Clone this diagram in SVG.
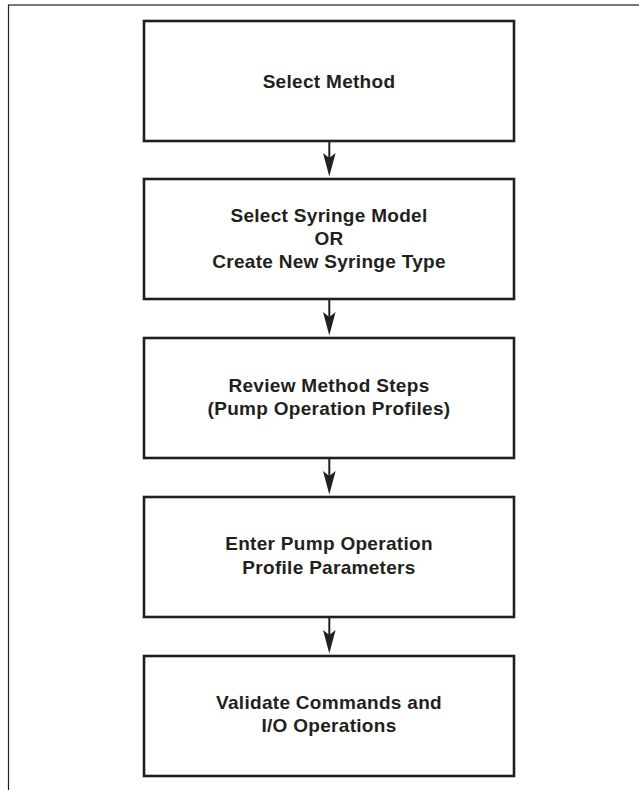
<svg xmlns="http://www.w3.org/2000/svg" width="639" height="790" viewBox="0 0 639 790">
<style>
.box{fill:#fff;stroke:#231f20;stroke-width:2.6}
.t{font-family:"Liberation Sans",Arial,sans-serif;font-weight:bold;font-size:19px;letter-spacing:0.3px;fill:#231f20;text-anchor:middle}
.c{stroke:#231f20;stroke-width:2;fill:none}
.h{fill:#231f20;stroke:none}
</style>
<rect x="0" y="0" width="639" height="790" fill="#fff"/>
<rect x="8.5" y="5" width="640" height="800" fill="none" stroke="#231f20" stroke-width="1.2"/>
<g id="n1"><rect class="box" x="144" y="21" width="370" height="120"/><text class="t" x="329" y="87.5">Select Method</text></g>
<g id="n2"><rect class="box" x="144" y="179" width="370" height="120"/><text class="t" x="329" y="222.3">Select Syringe Model</text><text class="t" x="329" y="245">OR</text><text class="t" x="329" y="267.7">Create New Syringe Type</text></g>
<g id="n3"><rect class="box" x="144" y="338" width="370" height="120"/><text class="t" x="329" y="391.5">Review Method Steps</text><text class="t" x="329" y="414.8">(Pump Operation Profiles)</text></g>
<g id="n4"><rect class="box" x="144" y="497" width="370" height="120"/><text class="t" x="329" y="550.3">Enter Pump Operation</text><text class="t" x="329" y="573.8">Profile Parameters</text></g>
<g id="n5"><rect class="box" x="144" y="656" width="370" height="120"/><text class="t" x="329" y="709.3">Validate Commands and</text><text class="t" x="329" y="731.7">I/O Operations</text></g>
<g id="connectors">
<line class="c" x1="329.3" y1="141" x2="329.3" y2="160"/><polygon class="h" points="323,153 329.3,176.5 335.6,153 329.3,158"/>
<line class="c" x1="329.3" y1="299" x2="329.3" y2="319"/><polygon class="h" points="323,312 329.3,335.5 335.6,312 329.3,317"/>
<line class="c" x1="329.3" y1="458" x2="329.3" y2="478"/><polygon class="h" points="323,471 329.3,494.5 335.6,471 329.3,476"/>
<line class="c" x1="329.3" y1="617" x2="329.3" y2="637"/><polygon class="h" points="323,630 329.3,653.5 335.6,630 329.3,635"/>
</g>
</svg>
